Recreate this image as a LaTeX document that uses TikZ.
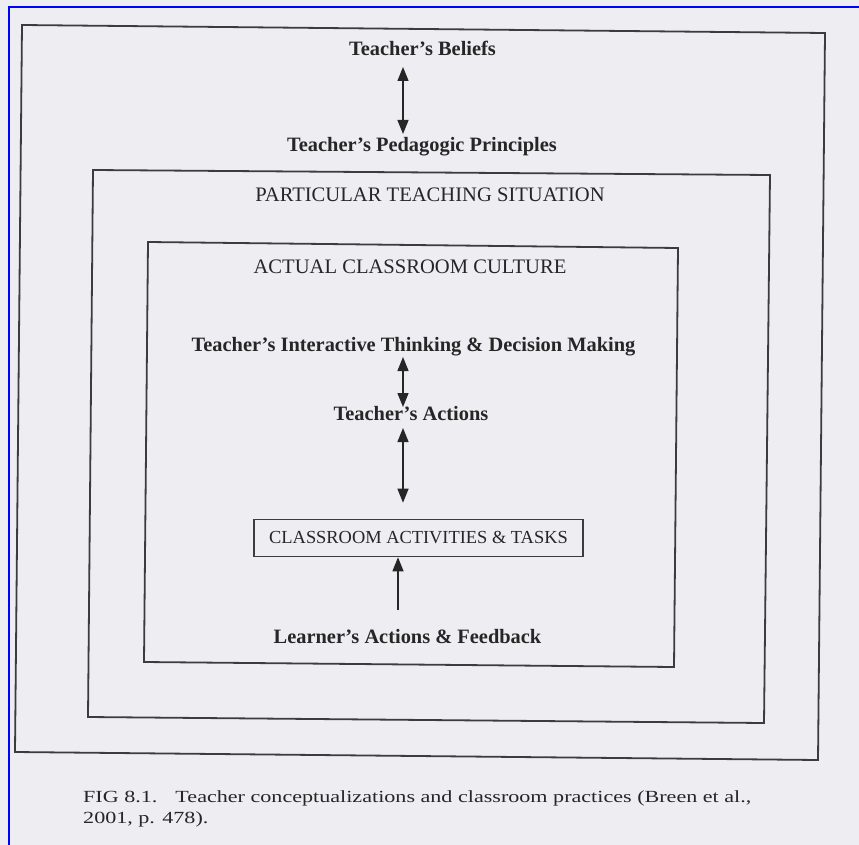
\documentclass[tikz,border=0pt]{standalone}
\usepackage{fontspec}
\setmainfont{Liberation Serif}
\newfontfamily\capfont[FakeStretch=1.3]{Liberation Serif}
\usetikzlibrary{arrows.meta,calc}
\definecolor{paper}{RGB}{237,237,242}
\definecolor{ink}{RGB}{38,38,38}
\definecolor{lineink}{RGB}{60,60,60}
\definecolor{scanframe}{RGB}{0,0,255}
\begin{document}
\begin{tikzpicture}[x=1pt,y=-1pt,
  boxline/.style={draw=lineink, line width=1.8pt, line join=miter},
  lbl/.style={font=\fontsize{20.4}{23}\selectfont\bfseries, text=ink, inner sep=0pt, anchor=base},
  uptitle/.style={font=\fontsize{20.6}{24}\selectfont, text=ink, inner sep=0pt, anchor=base},
  taskbox/.style={draw=lineink, line width=1.6pt, minimum width=329pt, minimum height=37pt, inner sep=0pt,
    font=\fontsize{18.4}{22}\selectfont, text=ink},
  capt/.style={font=\capfont\fontsize{17}{21}\selectfont, text=ink, inner sep=0pt, anchor=base west},
  link/.style={draw=ink, line width=1.3pt, {Triangle[width=11pt,length=14pt]}-{Triangle[width=11pt,length=14pt]}},
  uplink/.style={draw=ink, line width=1.3pt, -{Triangle[width=11pt,length=14pt]}}
]
\fill[paper] (0,0) rectangle (859,845);
\useasboundingbox (0,0) rectangle (859,845);
\draw[scanframe, line width=2.5pt] (9,846) -- (9,7) -- (860,7);

% outer frame
\coordinate (o1) at (22,25);
\coordinate (o2) at (825,33);
\coordinate (o3) at (818,760);
\coordinate (o4) at (15,752);
\draw[boxline] (o1) -- (o2) -- (o3) -- (o4) -- cycle;
% particular teaching situation
\coordinate (m1) at (93,170);
\coordinate (m2) at (770,175);
\coordinate (m3) at (764,723);
\coordinate (m4) at (88,717);
\draw[boxline] (m1) -- (m2) -- (m3) -- (m4) -- cycle;
% actual classroom culture
\coordinate (i1) at (148,242);
\coordinate (i2) at (678,248);
\coordinate (i3) at (674,667);
\coordinate (i4) at (144,662);
\draw[boxline] (i1) -- (i2) -- (i3) -- (i4) -- cycle;

% texts
\node[lbl] (beliefs) at (422.5,56) {Teacher’s Beliefs};
\node[lbl] (pedag) at (422,152) {Teacher’s Pedagogic Principles};
\node[uptitle] (pts) at (430,201) {PARTICULAR TEACHING SITUATION};
\node[uptitle] (acc) at (410,273) {ACTUAL CLASSROOM CULTURE};
\node[lbl] (itdm) at (413.5,351) {Teacher’s Interactive Thinking \& Decision Making};
\node[lbl] (actions) at (411,420) {Teacher’s Actions};
\node[taskbox] (tasks) at (418.5,538) {CLASSROOM ACTIVITIES \& TASKS};
\node[lbl] (learner) at (407.5,643) {Learner’s Actions \& Feedback};

\node[capt] (fig) at (83,802) {FIG 8.1.\hspace{18pt}Teacher conceptualizations and classroom practices (Breen et al.,};
\node[capt] (fig2) at (83,823) {2001, p. 478).};

% connectors
\coordinate (ax) at (403,0);
\coordinate (bx) at (398,0);
\draw[link] ($(beliefs.base -| ax)+(0,11)$) -- ($(pedag.base -| ax)+(0,-18)$);
\draw[link] ($(itdm.base -| ax)+(0,6)$) -- ($(actions.base -| ax)+(0,-13)$);
\draw[link] ($(actions.base -| ax)+(0,8)$) -- ($(tasks.north -| ax)+(0,-16)$);
\draw[uplink] ($(learner.base -| bx)+(0,-33)$) -- (tasks.south -| bx);
\end{tikzpicture}
\end{document}
